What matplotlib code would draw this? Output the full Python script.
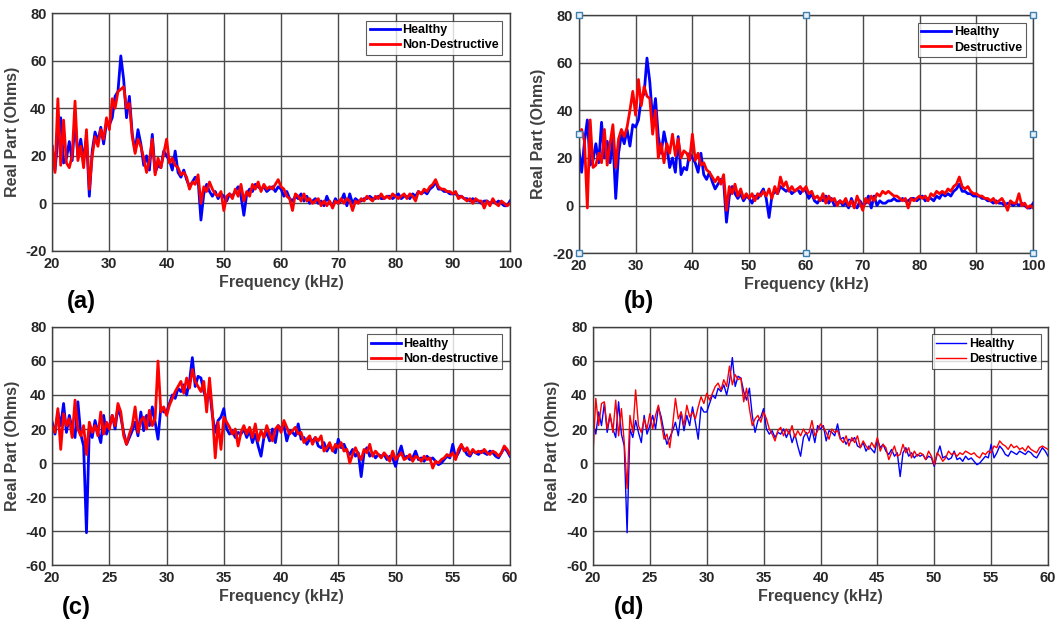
import numpy as np
import matplotlib.pyplot as plt

# ---- wide sweep, 20-100 kHz, panels (a) and (b) ----
healthy_wide = [
    24, 14, 27, 36, 17, 19, 26, 18, 35, 20, 27, 18, 28, 3, 22, 30, 26, 32, 25, 34,
    33, 36, 45, 47, 62, 52, 36, 45, 29, 22, 31, 25, 16, 20, 14, 29, 13, 16, 15, 22,
    20, 18, 14, 22, 13, 11, 14, 10, 7, 9, 11, 10, -7, 4, 8, 5, 3, 5, 2, 4,
    3, 1, 4, 3, 5, 7, 3, -5, 4, 6, 5, 8, 7, 6, 7, 5, 6, 7, 5, 7,
    6, 3, 5, 2, 1, 3, 2, 4, 1, 3, 0, 1, 2, 0, 1, -1, 3, 0, -1, 2,
    0, 1, 4, -1, 4, 0, 2, 1, 1, 2, 2, 3, 2, 2, 3, 2, 2, 3, 3, 2,
    3, 4, 2, 3, 3, 2, 4, 3, 5, 4, 5, 4, 6, 7, 9, 6, 6, 5, 5, 4,
    4, 4, 3, 3, 2, 2, 1, 2, 1, 1, 0, 1, 1, 0, 1, 0, 1, 0, -1, -1,
    1]
nondestructive_wide = [
    24, 13, 44, 16, 35, 17, 15, 20, 43, 18, 24, 15, 31, 6, 20, 28, 24, 31, 27, 36,
    31, 44, 40, 47, 48, 49, 40, 42, 28, 21, 27, 24, 19, 13, 18, 27, 12, 19, 15, 21,
    27, 17, 19, 16, 15, 12, 13, 11, 6, 9, 8, 12, 0, 7, 5, 9, 6, 4, 3, 5,
    -3, 3, 4, 2, 6, 3, 8, 1, 5, 3, 8, 6, 9, 5, 8, 6, 7, 6, 8, 10,
    7, 6, 3, 2, -3, 4, 3, 1, 4, 1, 2, 0, 1, 2, -1, 1, -1, 1, -2, 1,
    0, 2, 0, 2, 1, -3, 1, 0, 2, 1, 3, 2, 1, 3, 2, 4, 2, 3, 2, 4,
    3, 2, 3, 4, 2, 4, 3, 1, 5, 4, 6, 5, 7, 8, 10, 7, 6, 6, 5, 5,
    4, 5, 2, 3, 2, 1, 2, 0, 2, 1, 1, -2, 1, -1, 2, 0, -1, 1, 0, -1,
    0]
destructive_wide = [
    29, 32, 27, -1, 36, 16, 17, 22, 18, 32, 17, 26, 34, 16, 28, 32, 29, 33, 40, 48,
    38, 53, 42, 50, 46, 45, 30, 40, 20, 26, 18, 26, 22, 30, 21, 28, 20, 23, 22, 19,
    30, 19, 22, 17, 18, 15, 14, 12, 10, 12, 9, 13, -2, 8, 5, 9, 4, 7, 3, 5,
    3, 5, 2, 5, 4, 6, 4, 7, 3, 8, 5, 12, 8, 10, 6, 8, 6, 7, 8, 6,
    8, 5, 6, 3, 4, 2, 5, 1, 4, 2, 3, 0, 2, 1, 3, 0, 2, -1, 4, 1,
    -2, 3, 1, 4, 2, 5, 4, 6, 5, 6, 5, 4, 4, 3, 2, 3, -1, 3, 2, 3,
    4, 3, 4, 2, 5, 4, 6, 5, 6, 5, 7, 6, 8, 9, 12, 8, 7, 8, 6, 5,
    5, 4, 4, 3, 3, 2, 3, 1, 2, 3, 1, -2, 2, 1, 1, 5, 0, 1, -1, 0,
    -1]

# ---- narrow sweep, 20-60 kHz, panels (c) and (d) ----
healthy_narrow = [
    24, 17, 30, 22, 35, 18, 28, 20, 15, 36, 17, 10, -41, 20, 15, 25, 18, 12, 28, 17,
    22, 28, 20, 33, 27, 18, 11, 15, 19, 24, 16, 30, 19, 28, 22, 33, 24, 14, 33, 30,
    30, 35, 40, 38, 44, 42, 46, 40, 48, 62, 45, 51, 50, 42, 37, 44, 28, 18, 25, 27,
    32, 20, 17, 19, 15, 18, 17, 20, 15, 19, 12, 17, 10, 4, 15, 18, 13, 20, 12, 22,
    20, 22, 13, 19, 18, 16, 23, 14, 15, 11, 14, 13, 15, 10, 9, 12, 7, 10, 8, 6,
    14, 9, 11, 7, 5, 8, 4, 6, -8, 6, 9, 4, 6, 3, 5, 4, 5, 2, 4, 3,
    -2, 5, 10, 3, 4, 2, 3, 7, 2, 3, 1, 4, 2, 3, 1, -1, 0, 2, 4, 3,
    11, 3, 6, 10, 8, 5, 4, 7, 6, 5, 7, 6, 5, 7, 6, 4, 3, 6, 9, 7,
    4]
nondestructive_narrow = [
    22, 18, 32, 8, 29, 22, 26, 15, 37, 20, 16, 22, 5, 24, 18, 22, 16, 30, 17, 24,
    20, 28, 22, 35, 30, 16, 11, 17, 22, 33, 18, 25, 27, 20, 31, 22, 26, 60, 30, 33,
    28, 34, 38, 42, 45, 48, 41, 50, 44, 55, 48, 45, 42, 48, 30, 50, 30, 3, 24, 8,
    27, 24, 21, 17, 20, 10, 18, 22, 17, 21, 15, 23, 13, 19, 15, 22, 17, 13, 20, 22,
    18, 25, 21, 17, 19, 21, 17, 18, 12, 14, 16, 11, 15, 13, 16, 7, 9, 12, 7, 11,
    9, 12, 7, 8, 0, 5, 9, 5, 2, 8, 6, 11, 4, 7, 5, 3, 6, 4, 1, 7,
    2, 4, 6, 2, 3, 5, 1, 4, 3, 1, 4, 2, 3, -3, 1, 0, 2, 3, 5, 4,
    6, 2, 8, 11, 7, 9, 5, 8, 6, 7, 6, 8, 6, 5, 7, 6, 4, 6, 10, 8,
    5]
destructive_narrow = [
    5, 38, 22, 35, 36, 20, 29, 18, 37, 16, 32, 12, -15, 28, 18, 43, 22, 18, 26, 20,
    29, 20, 28, 34, 24, 14, 17, 9, 22, 38, 26, 30, 22, 34, 27, 30, 26, 33, 39, 35,
    41, 37, 41, 45, 47, 43, 49, 45, 57, 46, 52, 49, 50, 36, 44, 32, 22, 26, 28, 24,
    30, 26, 20, 17, 13, 19, 21, 16, 20, 17, 22, 15, 19, 16, 20, 17, 18, 25, 16, 19,
    23, 21, 18, 14, 20, 18, 19, 14, 12, 16, 10, 15, 12, 16, 9, 13, 10, 8, 12, 9,
    15, 7, 11, 9, 2, 6, 10, 4, 5, 11, 6, 9, 3, 7, 4, 6, 5, 2, 7, 4,
    -1, 6, 4, 1, 3, 7, 5, 6, 4, 6, 5, 7, 6, 5, 6, 4, 3, 6, 5, 7,
    6, 10, 9, 13, 11, 10, 8, 11, 9, 10, 8, 9, 7, 10, 8, 7, 6, 9, 10, 9,
    8]

handle_x = [20, 60, 100, 20, 100, 20, 60, 100]
handle_y = [80, 80, 80, 30, 30, -20, -20, -20]

plt.rcParams['font.family'] = ['Liberation Sans', 'DejaVu Sans']
plt.rcParams['axes.unicode_minus'] = False
fig = plt.figure(figsize=(10.64, 6.22), dpi=100)

panels = [
    ([0.049, 0.5965, 0.4303, 0.3825], healthy_wide, nondestructive_wide, 'Non-Destructive',
     (20, 100), (-20, 80), 10, 20, 2.0, '(a)', (0.063, 0.505)),
    ([0.544, 0.593, 0.427, 0.3825], healthy_wide, destructive_wide, 'Destructive',
     (20, 100), (-20, 80), 10, 20, 2.0, '(b)', (0.586, 0.505)),
    ([0.049, 0.0916, 0.4303, 0.3827], healthy_narrow, nondestructive_narrow, 'Non-destructive',
     (20, 60), (-60, 80), 5, 20, 2.0, '(c)', (0.058, 0.013)),
    ([0.5573, 0.0916, 0.4277, 0.3827], healthy_narrow, destructive_narrow, 'Destructive',
     (20, 60), (-60, 80), 5, 20, 1.0, '(d)', (0.577, 0.013)),
]

for rect, h, d, dlab, xl, yl, xs, ys, lw, tag, tagpos in panels:
    ax = fig.add_axes(rect)
    fh = np.linspace(xl[0], xl[1], len(h))
    fd = np.linspace(xl[0], xl[1], len(d))
    ax.plot(fh, h, color='#0000ff', lw=lw, label='Healthy')
    ax.plot(fd, d, color='#ff0000', lw=lw, label=dlab)
    ax.set_xlim(xl)
    ax.set_ylim(yl)
    ax.set_xticks(np.arange(xl[0], xl[1] + 1, xs))
    ax.set_yticks(np.arange(yl[0], yl[1] + 1, ys))
    ax.grid(True, color='#4a4a4a', lw=1.0)
    ax.set_axisbelow(True)
    ax.tick_params(length=0, pad=4, labelsize=10.5, labelcolor='#262626')
    for t in ax.get_xticklabels() + ax.get_yticklabels():
        t.set_fontweight('bold')
    for s in ax.spines.values():
        s.set_color('#404040')
        s.set_linewidth(1.0)
    ax.set_xlabel('Frequency (kHz)', fontsize=11.5, fontweight='bold', color='#404040', labelpad=3)
    ax.set_ylabel('Real Part (Ohms)', fontsize=11.5, fontweight='bold', color='#404040', labelpad=4)
    leg = ax.legend(loc='upper right', frameon=True, fancybox=False,
                    borderpad=0.3, handlelength=2.4, handletextpad=0.2, labelspacing=0.25,
                    borderaxespad=0.6, prop={'weight': 'bold', 'size': 9})
    leg.get_frame().set_edgecolor('#333333')
    leg.get_frame().set_linewidth(0.8)
    if tag == '(b)':
        ax.plot(handle_x, handle_y, ls='none', marker='s', ms=4, mfc='#e8f0f8',
                mec='#3c7fb1', mew=1.0, clip_on=False, zorder=5)
    fig.text(tagpos[0], tagpos[1], tag, fontsize=17, fontweight='bold', color='black')

fig.savefig('out.png', dpi=100)
